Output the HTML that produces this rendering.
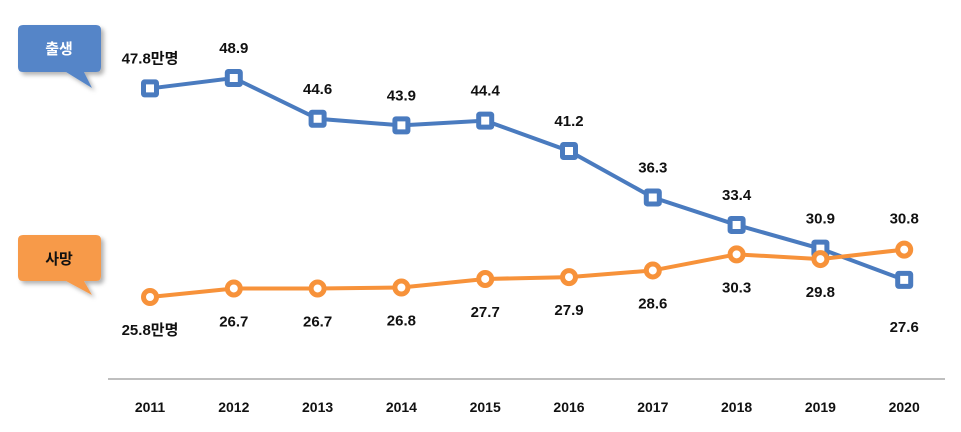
<!DOCTYPE html>
<html><head><meta charset="utf-8"><style>
body{margin:0;background:#fff;width:961px;height:427px;overflow:hidden}
svg text{font-family:"Liberation Sans","Noto Sans CJK KR",sans-serif;font-weight:bold}
</style></head><body>
<svg id="chart" width="961" height="427" xmlns="http://www.w3.org/2000/svg">
<defs><filter id="sh" x="-20%" y="-20%" width="150%" height="150%"><feDropShadow dx="3" dy="3" stdDeviation="2" flood-color="#000" flood-opacity="0.3"/></filter></defs>
<g filter="url(#sh)">
<path d="M23,25 H96 Q101,25 101,30 V67 Q101,72 96,72 H84 L92,88 L66,72 H23 Q18,72 18,67 V30 Q18,25 23,25 Z" fill="#5585c8"/>
</g>
<text x="59" y="54" text-anchor="middle" font-size="15" fill="#fff">출생</text>
<g filter="url(#sh)">
<path d="M23,235 H96 Q101,235 101,240 V276 Q101,281 96,281 H84 L92,295 L66,281 H23 Q18,281 18,276 V240 Q18,235 23,235 Z" fill="#f79a4a"/>
</g>
<text x="59" y="264" text-anchor="middle" font-size="15" fill="#111">사망</text>
<line x1="108" y1="379" x2="945" y2="379" stroke="#999" stroke-width="1.2"/>
<g id="plot"></g>
</svg>
<script>
const years=["2011","2012","2013","2014","2015","2016","2017","2018","2019","2020"];
const births=[47.8,48.9,44.6,43.9,44.4,41.2,36.3,33.4,30.9,27.6];
const deaths=[25.8,26.7,26.7,26.8,27.7,27.9,28.6,30.3,29.8,30.8];
const birthLabels=["47.8만명","48.9","44.6","43.9","44.4","41.2","36.3","33.4","30.9","27.6"];
const deathLabels=["25.8만명","26.7","26.7","26.8","27.7","27.9","28.6","30.3","29.8","30.8"];
const X=i=>150+i*83.8;
const Y=v=>78+(48.9-v)*9.48;
const NS="http://www.w3.org/2000/svg";
const g=document.getElementById('plot');
function mk(t,a){const e=document.createElementNS(NS,t);for(const k in a)e.setAttribute(k,a[k]);g.appendChild(e);return e;}
years.forEach((y,i)=>{const t=mk('text',{x:X(i),y:412,'text-anchor':'middle','font-size':14,fill:'#111'});t.textContent=y;

});
const bl=mk('polyline',{points:births.map((v,i)=>X(i)+','+Y(v)).join(' '),fill:'none',stroke:'#4a7bbf','stroke-width':4});


const dl=mk('polyline',{points:deaths.map((v,i)=>X(i)+','+Y(v)).join(' '),fill:'none',stroke:'#f7923a','stroke-width':4});


births.forEach((v,i)=>{const m=mk('rect',{x:X(i)-6.5,y:Y(v)-6.5,width:13,height:13,fill:'#fff',stroke:'#4a7bbf','stroke-width':5,rx:1});

});
deaths.forEach((v,i)=>{const m=mk('circle',{cx:X(i),cy:Y(v),r:6.5,fill:'#fff',stroke:'#f7923a','stroke-width':5});

});
births.forEach((v,i)=>{const below=v<deaths[i];const t=mk('text',{x:X(i),y:below?Y(v)+52:Y(v)-25,'text-anchor':'middle','font-size':15,fill:'#111'});t.textContent=birthLabels[i];

});
deaths.forEach((v,i)=>{const above=v>births[i];const t=mk('text',{x:X(i),y:above?Y(v)-26:Y(v)+38,'text-anchor':'middle','font-size':15,fill:'#111'});t.textContent=deathLabels[i];

});
</script>
</body></html>
